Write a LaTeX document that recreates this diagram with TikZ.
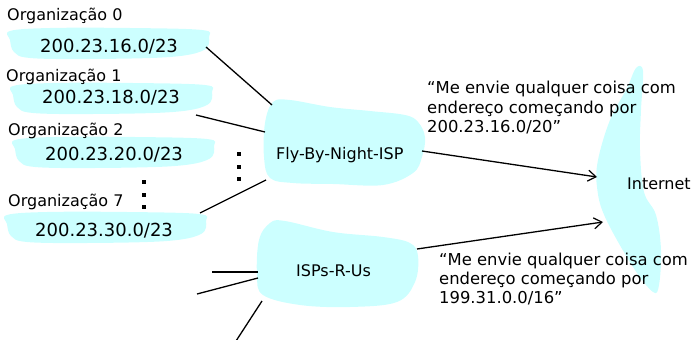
\documentclass[tikz,border=0pt]{standalone}
\usepackage{fontspec}
\setmainfont{DejaVu Sans}
\usetikzlibrary{arrows.meta}
\definecolor{cloud}{HTML}{CCFFFF}

% organisation cloud, origin at its top-left corner
\newcommand\orgcloud[2]{%
  \fill[cloud, shift={(#1,#2)}] plot[smooth cycle, tension=0.6] coordinates
    {(0,3) (40,0) (120,0) (192,2) (199,9) (194,22) (160,29) (80,31) (20,30) (4,24) (0,12)};}
% vertical ellipsis made of three square dots
\newcommand\vdotsat[2]{%
  \foreach \dy in {0,12.5,25} {\fill (#1-2,#2+\dy-2) rectangle (#1+2,#2+\dy+2);}}

\begin{document}
\begin{tikzpicture}[x=1pt, y=-1pt,
  link/.style={line width=1.3pt},
  advlink/.style={link, -{Straight Barb[length=8pt,width=11pt,line width=1.2pt]}},
  plaintext/.style={anchor=base west, inner sep=0pt, font=\fontsize{16}{19}\selectfont},
  orglabel/.style={plaintext},
  ipprefix/.style={plaintext, font=\fontsize{18}{21}\selectfont},
  advtext/.style={plaintext, font=\fontsize{16.4}{19.5}\selectfont}]
\useasboundingbox (0,0) rectangle (694,340);

% clouds
\orgcloud{10}{28}
\orgcloud{13}{83}
\orgcloud{15}{137}
\orgcloud{7}{212}
\fill[cloud] plot[smooth cycle, tension=0.6] coordinates
  {(273,102) (290,100) (330,107) (370,111) (405,115) (418,122) (425,137) (422,157)
   (413,173) (383,185) (333,184) (293,183) (270,178) (264,157) (265,123)};
\fill[cloud] plot[smooth cycle, tension=0.6] coordinates
  {(270,223) (285,221) (333,232) (383,237) (410,243) (418,256) (415,282) (397,302)
   (350,307) (300,305) (263,295) (257,275) (259,240)};
\fill[cloud] plot[smooth cycle, tension=0.6] coordinates
  {(636,68) (643,71) (641,110) (640,150) (644,192) (656,215) (661,250) (659,285)
   (653,292) (633,267) (605,217) (597,187) (598,160) (610,120) (627,88)};

% organisations
\node[orglabel] (org0) at (7,20) {Organização 0};
\node[ipprefix] (ip0)  at (40,52) {200.23.16.0/23};
\node[orglabel] (org1) at (6,81) {Organização 1};
\node[ipprefix] (ip1)  at (42,103) {200.23.18.0/23};
\node[orglabel] (org2) at (8,135) {Organização 2};
\node[ipprefix] (ip2)  at (45,160) {200.23.20.0/23};
\node[orglabel] (org7) at (8,206) {Organização 7};
\node[ipprefix] (ip7)  at (35,236) {200.23.30.0/23};
\vdotsat{144}{182}
\vdotsat{239}{154}

% providers
\node[plaintext] (fbn)  at (276,159) {Fly-By-Night-ISP};
\node[plaintext] (isp)  at (296,276) {ISPs-R-Us};
\node[plaintext] (inet) at (627,189) {Internet};

% advertisements
\node[advtext] (qa1) at (427,93)  {“Me envie qualquer coisa com};
\node[advtext] (qa2) at (427,113) {endereço começando por};
\node[advtext] (qa3) at (427,132) {200.23.16.0/20”};
\node[advtext] (qb1) at (439,265) {“Me envie qualquer coisa com};
\node[advtext] (qb2) at (439,284) {endereço começando por};
\node[advtext] (qb3) at (439,303) {199.31.0.0/16”};

% connector end points on the cloud outlines
\coordinate (o0) at (206,47);   \coordinate (f0) at (272,105);
\coordinate (o1) at (196,115);  \coordinate (f1) at (265,132);
\coordinate (o7) at (200,213);  \coordinate (f7) at (266,180);
\coordinate (fout) at (422,151); \coordinate (inA) at (597,177);
\coordinate (ia) at (212,272);  \coordinate (ra) at (258,272);
\coordinate (ib) at (197,294);  \coordinate (rb) at (258,278);
\coordinate (ic) at (236,341);  \coordinate (rc) at (262,301);
\coordinate (rout) at (417,249); \coordinate (inB) at (603,222);

\draw[link] (o0) -- (f0);
\draw[link] (o1) -- (f1);
\draw[link] (o7) -- (f7);
\draw[link] (ia) -- (ra);
\draw[link] (ib) -- (rb);
\draw[link] (ic) -- (rc);
\draw[advlink] (fout) -- (inA);
\draw[advlink] (rout) -- (inB);
\end{tikzpicture}
\end{document}
